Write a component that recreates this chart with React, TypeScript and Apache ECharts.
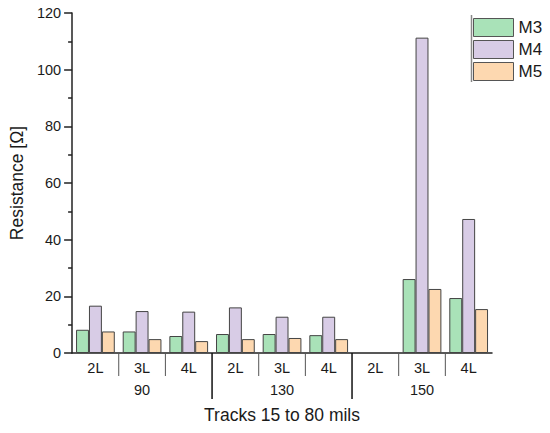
import React, { useEffect, useRef } from "react";
import * as echarts from "echarts";

const subCategories = ["2L", "3L", "4L", "2L", "3L", "4L", "2L", "3L", "4L"];
const groupCategories = ["90", "130", "150"];
const seriesNames = ["M3", "M4", "M5"];
const m3Values = [8.2, 7.6, 6.0, 6.7, 6.7, 6.3, null, 26.1, 19.4];
const m4Values = [16.7, 14.8, 14.6, 16.1, 12.8, 12.8, null, 111.3, 47.3];
const m5Values = [7.6, 4.9, 4.2, 4.9, 5.3, 4.9, null, 22.6, 15.5];
const yTicks = [0, 20, 40, 60, 80, 100, 120];
const minorBoundaries = [1, 2, 4, 5, 7, 8];
const majorBoundaries = [3, 6];

const colors = ["#a9e2b8", "#d8cce6", "#fdd8b0"];
const FONT = "Liberation Sans, Arial, sans-serif";

export default function App() {
  const ref = useRef<HTMLDivElement>(null);
  useEffect(() => {
    if (!ref.current) return;
    const chart = echarts.init(ref.current, null, { renderer: "svg" });
    const sepData = [
      ...minorBoundaries.map((b) => [b, 0]),
      ...majorBoundaries.map((b) => [b, 1]),
    ];
    const valuesList = [m3Values, m4Values, m5Values];
    chart.setOption({
      animation: false,
      textStyle: { fontFamily: FONT },
      grid: { left: 69, right: 58, top: 13, bottom: 80, containLabel: false },
      legend: {
        orient: "vertical",
        left: 473,
        top: 18,
        padding: 0,
        icon: "rect",
        itemWidth: 40,
        itemHeight: 18,
        itemGap: 3,
        data: seriesNames,
        textStyle: { fontSize: 17, color: "#1a1a1a", fontFamily: FONT, padding: [0, 0, 0, 0] },
        itemStyle: { borderColor: "#555", borderWidth: 1 },
      },
      xAxis: [
        {
          type: "category",
          data: subCategories,
          axisLine: { lineStyle: { color: "#222", width: 1.5 } },
          axisTick: { show: false },
          axisLabel: { fontSize: 14.5, color: "#1a1a1a", margin: 7, interval: 0 },
        },
        {
          type: "category",
          data: groupCategories,
          position: "bottom",
          offset: 22,
          axisLine: { show: false },
          axisTick: { show: false },
          axisLabel: { fontSize: 14.5, color: "#1a1a1a", margin: 7, interval: 0 },
          name: "Tracks 15 to 80 mils",
          nameLocation: "middle",
          nameGap: 31,
          nameTextStyle: { fontSize: 17.5, color: "#1a1a1a", fontFamily: FONT },
        },
      ],
      yAxis: {
        type: "value",
        min: 0,
        max: 120,
        interval: 20,
        name: "Resistance [Ω]",
        nameLocation: "middle",
        nameGap: 45,
        nameTextStyle: { fontSize: 17.5, color: "#1a1a1a", fontFamily: FONT },
        axisLine: { show: true, lineStyle: { color: "#222", width: 1.5 } },
        axisTick: { show: true, length: 8, lineStyle: { color: "#222", width: 1.5 } },
        minorTick: { show: true, splitNumber: 2, length: 4, lineStyle: { color: "#222", width: 1.5 } },
        splitLine: { show: false },
        axisLabel: {
          fontSize: 14.5,
          color: "#1a1a1a",
          margin: 11,
          formatter: (v: number) => (yTicks.includes(v) ? String(v) : ""),
        },
      },
      series: [
        ...seriesNames.map((name, k) => ({
          name,
          type: "bar",
          xAxisIndex: 0,
          data: valuesList[k],
          barGap: "0%",
          barCategoryGap: "17%",
          itemStyle: { color: colors[k], borderColor: "#444", borderWidth: 1 },
        })),
        {
          type: "custom",
          xAxisIndex: 0,
          silent: true,
          clip: false,
          data: sepData,
          renderItem: (params: any, api: any) => {
            const b = api.value(0);
            const major = api.value(1) === 1;
            const p = api.coord([b, 0]);
            const w = api.size([1, 0])[0];
            const x = p[0] - w / 2;
            return {
              type: "line",
              shape: { x1: x, y1: p[1], x2: x, y2: p[1] + (major ? 46 : 23) },
              style: { stroke: major ? "#111" : "#555", lineWidth: major ? 1.5 : 1 },
            };
          },
        },
      ],
      graphic: [
        {
          type: "line",
          shape: { x1: 471.5, y1: 15, x2: 471.5, y2: 82 },
          style: { stroke: "#888", lineWidth: 1.5 },
        },
      ],
    });
    return () => chart.dispose();
  }, []);
  return (
    <div
      ref={ref}
      style={{ position: "absolute", left: 0, top: 0, width: 550, height: 433, background: "#fff" }}
    />
  );
}
